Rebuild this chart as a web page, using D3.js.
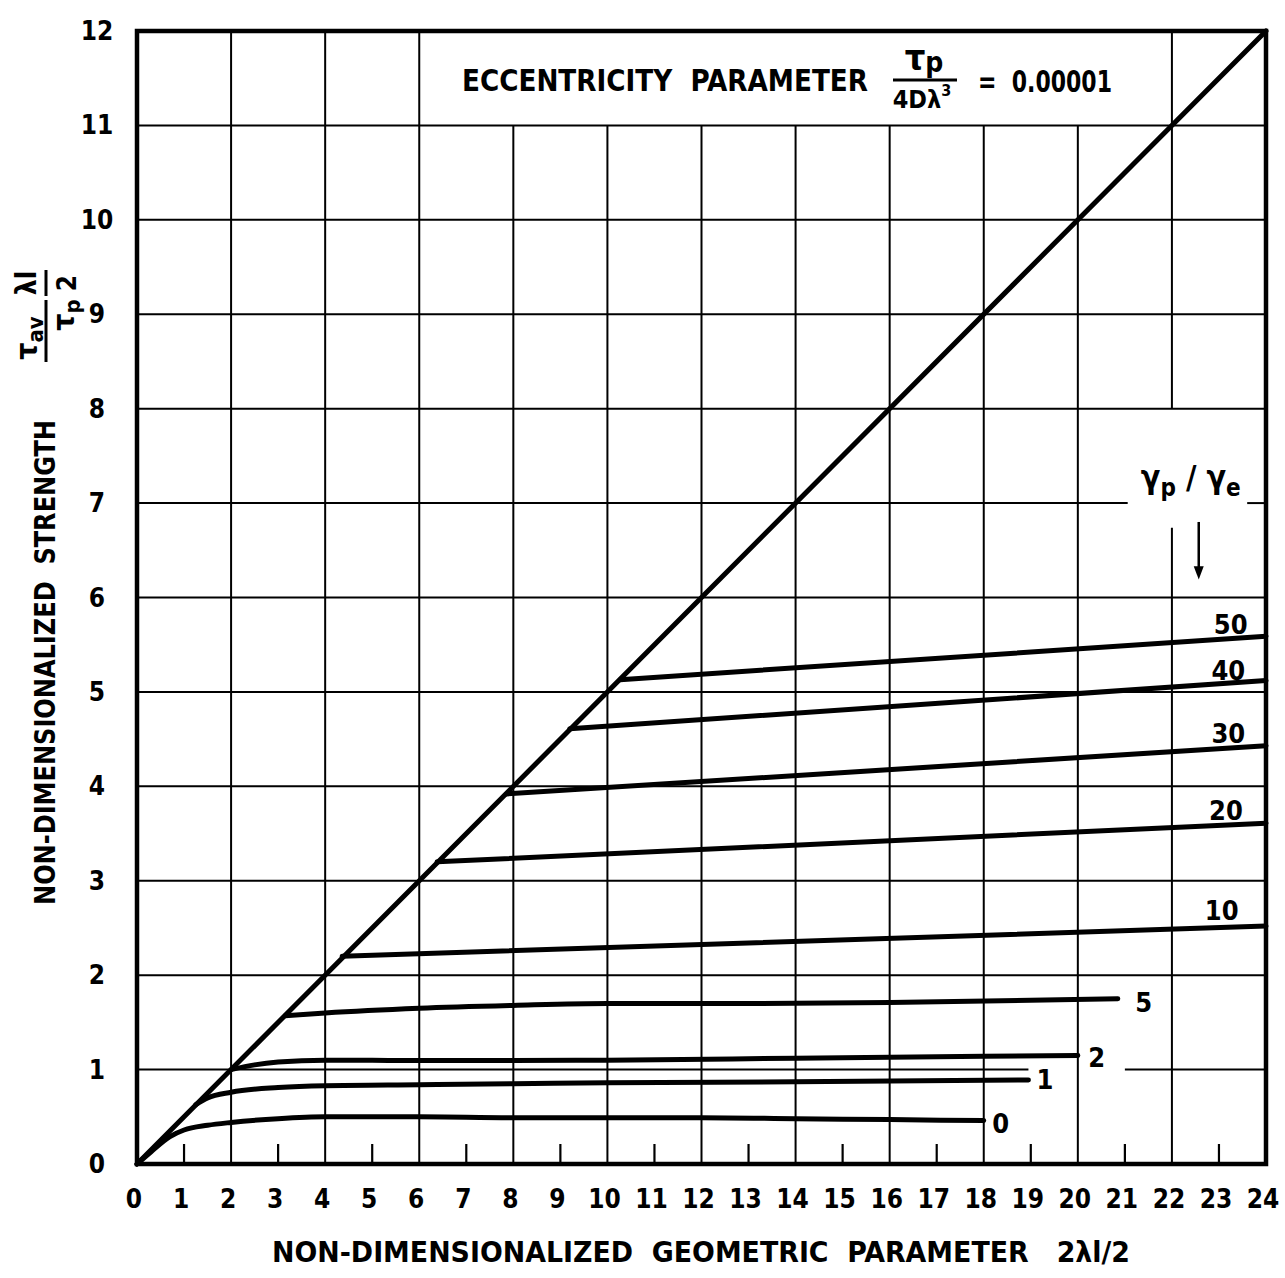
<!DOCTYPE html>
<html><head><meta charset="utf-8">
<script src="https://cdn.jsdelivr.net/npm/d3@7"></script>
<style>
body{margin:0;background:#fff}
text{font-family:"Liberation Sans Narrow","DejaVu Sans Condensed",sans-serif;font-weight:bold;fill:#000}
</style>
</head><body>
<svg id="c" width="1285" height="1278"></svg>
<script>
// ---- data ----
const xTicks = d3.range(0, 25);
const yTicks = d3.range(0, 13);
const oddTicks = d3.range(1, 24, 2);
const diagonal = [[0,0],[24,12]];
const curve0  = [[0,0],[0.3,0.13],[0.7,0.29],[1,0.36],[1.5,0.41],[2,0.44],[3,0.48],[4,0.5],[6,0.5],[8,0.49],[10,0.49],[12,0.49],[14,0.48],[16,0.47],[18,0.46]];
const curve1  = [[1.25,0.63],[1.5,0.7],[2,0.76],[3,0.81],[4,0.83],[6,0.84],[8,0.85],[10,0.86],[14,0.87],[18.95,0.89]];
const curve2  = [[2,1.0],[2.5,1.05],[3,1.08],[4,1.1],[5,1.1],[6,1.095],[8,1.095],[10,1.1],[14,1.12],[18,1.14],[20,1.15]];
const curve5  = [[3.15,1.57],[4,1.6],[6,1.65],[8,1.68],[10,1.7],[13,1.7],[16,1.71],[20.85,1.75]];
const curve10 = [[4.36,2.2],[24,2.52]];
const curve20 = [[6.38,3.2],[24,3.61]];
const curve30 = [[7.85,3.92],[24,4.43]];
const curve40 = [[9.2,4.61],[24,5.12]];
const curve50 = [[10.27,5.13],[24,5.59]];
const curveLabels = ["50","40","30","20","10","5","2","1","0"];
const labelX = [23.25,23.2,23.2,23.15,23.06,21.4,20.4,19.3,18.36];
const labelY = [5.71,5.23,4.56,3.74,2.68,1.71,1.13,0.9,0.43];
const vGrid = [2,4,6,8,10,12,14,16,18,20,22];
const hGrid = [1,2,3,4,5,6,7,8,9,10,11];

// ---- scales ----
const x = d3.scaleLinear().domain([0,24]).range([137,1266]);
const y = d3.scaleLinear().domain([0,12]).range([1164,31]);
const svg = d3.select("#c");

// grid segments (gaps where the figure leaves white space)
const vSegs = [];
vGrid.forEach(k => {
  if (k === 22) { vSegs.push([k,0,6.74]); vSegs.push([k,8,12]); }
  else if (k >= 8 && k <= 20) vSegs.push([k,0,11]);
  else vSegs.push([k,0,12]);
});
const hSegs = [];
hGrid.forEach(k => {
  if (k === 1) { hSegs.push([k,0,18.95]); hSegs.push([k,21.0,24]); }
  else if (k === 7) { hSegs.push([k,0,21.06]); hSegs.push([k,23.6,24]); }
  else hSegs.push([k,0,24]);
});
const g = svg.append("g");
g.selectAll(".vg").data(vSegs).join("line")
  .attr("x1", d=>x(d[0])).attr("x2", d=>x(d[0]))
  .attr("y1", d=>y(d[1])).attr("y2", d=>y(d[2]))
  .attr("stroke","#000").attr("stroke-width",2);
g.selectAll(".hg").data(hSegs).join("line")
  .attr("y1", d=>y(d[0])).attr("y2", d=>y(d[0]))
  .attr("x1", d=>x(d[1])).attr("x2", d=>x(d[2]))
  .attr("stroke","#000").attr("stroke-width",2);

// bottom ticks at odd values
g.selectAll(".tk").data(oddTicks).join("line")
  .attr("x1", d=>x(d)).attr("x2", d=>x(d))
  .attr("y1", y(0)).attr("y2", y(0)-20)
  .attr("stroke","#000").attr("stroke-width",2.2);

// frame
svg.append("rect").attr("x", x(0)).attr("y", y(12))
  .attr("width", x(24)-x(0)).attr("height", y(0)-y(12))
  .attr("fill","none").attr("stroke","#000").attr("stroke-width",4.5);

// curves
const line = d3.line().x(d=>x(d[0])).y(d=>y(d[1])).curve(d3.curveMonotoneX);
const series = [diagonal, curve0, curve1, curve2, curve5, curve10, curve20, curve30, curve40, curve50];
svg.selectAll(".cv").data(series).join("path")
  .attr("d", line).attr("fill","none").attr("stroke","#000")
  .attr("stroke-width", 5).attr("stroke-linecap","round").attr("stroke-linejoin","round");

// curve labels
svg.selectAll(".cl").data(curveLabels).join("text")
  .attr("x", (d,i)=>x(labelX[i])).attr("y", (d,i)=>y(labelY[i]))
  .attr("text-anchor","middle").attr("dominant-baseline","central")
  .attr("font-size", 27).text(d=>d);

// y tick labels
svg.selectAll(".yl").data(yTicks).join("text")
  .attr("x", 97).attr("y", d=>y(d))
  .attr("text-anchor","middle").attr("dominant-baseline","central")
  .attr("font-size", 26).text(d=>d);

// x tick labels
svg.selectAll(".xl").data(xTicks).join("text")
  .attr("x", d=>x(d)-3).attr("y", 1199)
  .attr("text-anchor","middle").attr("dominant-baseline","central")
  .attr("font-size", 26).text(d=>d);

// x axis title
svg.append("text").attr("x", 272).attr("y", 1262)
  .attr("font-size", 29).attr("textLength", 858).attr("lengthAdjust","spacingAndGlyphs")
  .attr("xml:space","preserve")
  .text("NON-DIMENSIONALIZED  GEOMETRIC  PARAMETER   2λl/2");

// y axis title (rotated)
const yt = svg.append("g").attr("transform","rotate(-90)");
yt.append("text").attr("x", -905).attr("y", 55)
  .attr("font-size", 29).attr("textLength", 485).attr("lengthAdjust","spacingAndGlyphs")
  .attr("xml:space","preserve").text("NON-DIMENSIONALIZED  STRENGTH");
const f1 = yt.append("text").attr("x", -338).attr("y", 37).attr("text-anchor","middle").attr("font-size", 30);
f1.append("tspan").text("τ");
f1.append("tspan").attr("font-size", 22).attr("dy", 6).text("av");
yt.append("line").attr("x1",-362).attr("x2",-300).attr("y1",46).attr("y2",46).attr("stroke","#000").attr("stroke-width",3);
const f2 = yt.append("text").attr("x", -315).attr("y", 74).attr("text-anchor","middle").attr("font-size", 30);
f2.append("tspan").text("τ");
f2.append("tspan").attr("font-size", 22).attr("dy", 6).text("p");
yt.append("text").attr("x", -283).attr("y", 36).attr("text-anchor","middle").attr("font-size", 28).text("λl");
yt.append("line").attr("x1",-296).attr("x2",-270).attr("y1",46).attr("y2",46).attr("stroke","#000").attr("stroke-width",3);
yt.append("text").attr("x", -283).attr("y", 76).attr("text-anchor","middle").attr("font-size", 26).text("2");

// title box text
svg.append("text").attr("x", 462).attr("y", 91)
  .attr("font-size", 30).attr("textLength", 406).attr("lengthAdjust","spacingAndGlyphs")
  .attr("xml:space","preserve").text("ECCENTRICITY  PARAMETER");
const n1 = svg.append("text").attr("x", 924).attr("y", 70).attr("text-anchor","middle").attr("font-size", 36);
n1.append("tspan").text("τ");
n1.append("tspan").attr("font-size", 28).attr("dy", 2).text("p");
svg.append("line").attr("x1",893).attr("x2",957).attr("y1",80).attr("y2",80).attr("stroke","#000").attr("stroke-width",3);
const d1 = svg.append("text").attr("x", 922).attr("y", 108).attr("text-anchor","middle").attr("font-size", 25);
d1.append("tspan").text("4Dλ");
d1.append("tspan").attr("font-size", 16).attr("dy", -12).text("3");
svg.append("text").attr("x", 978).attr("y", 92)
  .attr("font-size", 30).attr("textLength", 134).attr("lengthAdjust","spacingAndGlyphs")
  .attr("xml:space","preserve").text("=  0.00001");

// legend title
const lg = svg.append("text").attr("x", x(22.4)).attr("y", 488).attr("text-anchor","middle").attr("font-size", 32);
lg.append("tspan").text("γ");
lg.append("tspan").attr("font-size", 24).attr("dy", 8).text("p");
lg.append("tspan").attr("dy", -8).text(" / γ");
lg.append("tspan").attr("font-size", 24).attr("dy", 8).text("e");

// arrow
svg.append("line").attr("x1", x(22.57)).attr("x2", x(22.57)).attr("y1", y(6.8)).attr("y2", y(6.3))
  .attr("stroke","#000").attr("stroke-width",2.5);
svg.append("path")
  .attr("d", `M${x(22.57)-5},${y(6.33)} L${x(22.57)+5},${y(6.33)} L${x(22.57)},${y(6.19)} Z`)
  .attr("fill","#000");
</script>
</body></html>
